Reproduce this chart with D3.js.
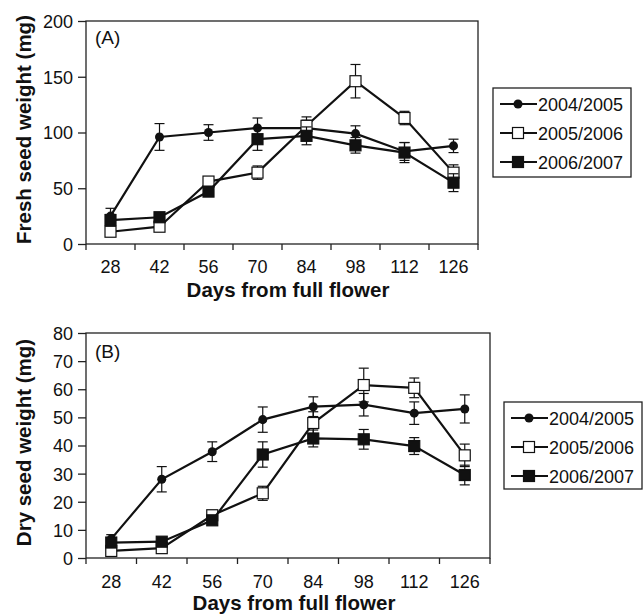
<!DOCTYPE html>
<html lang="en">
<head>
<meta charset="UTF-8">
<title>Seed weight</title>
<script src="https://d3js.org/d3.v7.min.js"></script>
<style>
	body{margin:0;background:#fff}
	text{font-family:"Liberation Sans",Arial,sans-serif;fill:#111}
	.tick text{font-size:18px}
	.title{font-size:20.5px;font-weight:bold}
</style>
</head>
<body>
<svg id="chart" width="643" height="615"></svg>
<script>
// categories on x axis
var days = [28, 42, 56, 70, 84, 98, 112, 126];
var seasons = ["2004/2005", "2005/2006", "2006/2007"];

// panel A, fresh seed weight (mg), mean and error
var fresh0405 = [25, 96, 100, 104, 104, 99, 83, 88];
var fresh0405err = [7, 12, 7, 9, 7, 7, 8, 6];
var fresh0506 = [11, 15.5, 56, 64, 106, 146, 113, 64];
var fresh0506err = [4, 3, 4, 6, 8, 15, 6, 7];
var fresh0607 = [21.5, 24, 47, 94, 97, 88.5, 82, 55];
var fresh0607err = [5, 4, 4, 10, 8, 7, 9, 8];

// panel B, dry seed weight (mg)
var dry0405 = [6.8, 28, 37.8, 49.2, 53.8, 54.5, 51.5, 53];
var dry0405err = [1.5, 4.5, 3.5, 4.5, 3.5, 4, 4, 5];
var dry0506 = [2.5, 3.5, 15.2, 23, 48, 61.5, 60.5, 36.5];
var dry0506err = [1, 1, 1.5, 2.5, 4, 6, 3.5, 4];
var dry0607 = [5.5, 5.8, 13.4, 36.8, 42.5, 42.2, 39.8, 29.5];
var dry0607err = [1.5, 1, 1.5, 4.5, 3, 3.5, 3, 3.5];

var svg = d3.select("#chart");

function panel(o){
	var g = svg.append("g");
	var x = d3.scaleBand().domain(days).range([o.left, o.right]);
	var y = d3.scaleLinear().domain([0, o.ymax]).range([o.bottom, o.top]);

	// frame
	g.append("rect").attr("x", o.left).attr("y", o.top)
		.attr("width", o.right - o.left).attr("height", o.bottom - o.top)
		.attr("fill", "none").attr("stroke", "#222").attr("stroke-width", 1.3);

	// x axis: ticks between categories
	var xa = g.append("g").attr("transform", "translate(0," + o.bottom + ")")
		.call(d3.axisBottom(x).tickSize(0).tickPadding(o.xpad));
	xa.select(".domain").remove();
	var edges = days.map(function(d){ return x(d) }).concat([o.right]);
	g.selectAll(".xt").data(edges).enter().append("line")
		.attr("x1", function(d){ return d }).attr("x2", function(d){ return d })
		.attr("y1", o.bottom).attr("y2", o.bottom + 6)
		.attr("stroke", "#222").attr("stroke-width", 1.3);

	var ya = g.append("g").attr("transform", "translate(" + o.left + ",0)")
		.call(d3.axisLeft(y).tickValues(d3.range(0, o.ymax + 1, o.ystep)).tickSize(8).tickPadding(5));
	ya.select(".domain").remove();
	ya.selectAll(".tick line").attr("stroke", "#222").attr("stroke-width", 1.3);
	ya.selectAll(".tick text").attr("dy", "0.36em");

	g.append("text").attr("class", "title").attr("text-anchor", "middle")
		.attr("transform", "translate(" + o.ytx + "," + ((o.top + o.bottom) / 2 - 3) + ") rotate(-90)")
		.text(o.ytitle);
	g.append("text").attr("class", "title").attr("text-anchor", "middle")
		.attr("x", (o.left + o.right) / 2 + 6).attr("y", o.xty).text("Days from full flower");
	g.append("text").attr("x", o.left + 9).attr("y", o.top + o.ldy)
		.style("font-size", "19px").text(o.label);

	var cx = function(i){ return x(days[i]) + x.bandwidth() / 2 };
	var line = d3.line().x(function(d, i){ return cx(i) }).y(function(d){ return y(d) });

	o.series.forEach(function(s){
		var sg = g.append("g");
		sg.append("path").datum(s.v).attr("d", line)
			.attr("fill", "none").attr("stroke", "#111").attr("stroke-width", 2.2);
		s.v.forEach(function(v, i){
			var x0 = cx(i), y1 = y(v + s.e[i]), y2 = y(v - s.e[i]);
			sg.append("line").attr("x1", x0).attr("x2", x0).attr("y1", y1).attr("y2", y2)
				.attr("stroke", "#111").attr("stroke-width", 1.2);
			[y1, y2].forEach(function(yy){
				sg.append("line").attr("x1", x0 - 5).attr("x2", x0 + 5).attr("y1", yy).attr("y2", yy)
					.attr("stroke", "#111").attr("stroke-width", 1.2);
			});
		});
		s.v.forEach(function(v, i){ marker(sg, s.kind, cx(i), y(v)) });
	});

	// legend
	var lg = g.append("g");
	lg.append("rect").attr("x", o.lx).attr("y", o.ly).attr("width", o.lw).attr("height", o.lh)
		.attr("fill", "#fff").attr("stroke", "#222").attr("stroke-width", 1.3);
	o.series.forEach(function(s, i){
		var yy = o.ly + 16 + i * 29;
		lg.append("line").attr("x1", o.lx + 7).attr("x2", o.lx + 44).attr("y1", yy).attr("y2", yy)
			.attr("stroke", "#111").attr("stroke-width", 2.2);
		marker(lg, s.kind, o.lx + 25, yy);
		lg.append("text").attr("x", o.lx + 45).attr("y", yy + 6.5).style("font-size", "18px").text(seasons[i]);
	});
}

function marker(g, kind, x, y){
	if (kind == "circle") {
		g.append("path").attr("d", d3.symbol(d3.symbolCircle, 64)())
			.attr("transform", "translate(" + x + "," + y + ")").attr("fill", "#111");
	} else {
		g.append("rect").attr("x", x - 5.5).attr("y", y - 5.5).attr("width", 11).attr("height", 11)
			.attr("fill", kind == "open" ? "#fff" : "#111").attr("stroke", "#111").attr("stroke-width", 1.2);
	}
}

panel({
	left: 86, right: 478, top: 21, bottom: 244, ymax: 200, ystep: 50,
	ytitle: "Fresh seed weight (mg)", ytx: 31, xty: 297, label: "(A)", ldy: 23, xpad: 16,
	lx: 493, ly: 88, lw: 138, lh: 89,
	series: [
		{kind: "circle", v: fresh0405, e: fresh0405err},
		{kind: "open", v: fresh0506, e: fresh0506err},
		{kind: "filled", v: fresh0607, e: fresh0607err}
	]
});

panel({
	left: 86, right: 490, top: 333, bottom: 558, ymax: 80, ystep: 10,
	ytitle: "Dry seed weight (mg)", ytx: 31, xty: 609.5, label: "(B)", ldy: 25, xpad: 17,
	lx: 504, ly: 402, lw: 138, lh: 87,
	series: [
		{kind: "circle", v: dry0405, e: dry0405err},
		{kind: "open", v: dry0506, e: dry0506err},
		{kind: "filled", v: dry0607, e: dry0607err}
	]
});
</script>
</body>
</html>
